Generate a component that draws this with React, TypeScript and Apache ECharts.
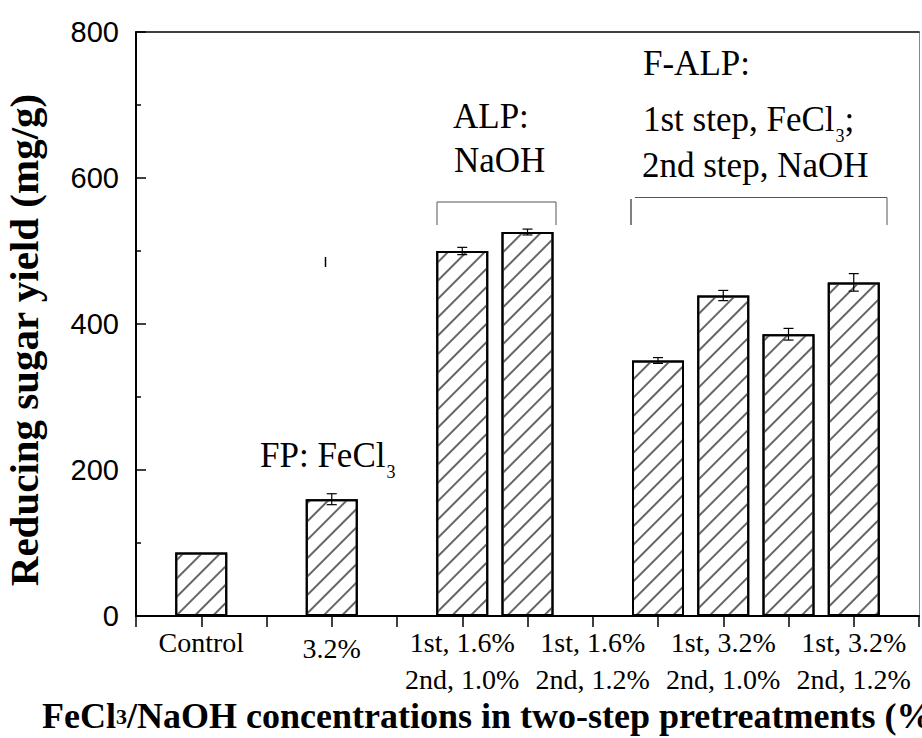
import React, { useEffect, useRef } from "react";
import * as echarts from "echarts";

// slot index of each bar on the x axis (0..12)
const barSlots = [1, 3, 5, 6, 8, 9, 10, 11];
const yields = [87, 160, 500, 526, 350, 439, 386, 457];
const errors = [0, 7.5, 5, 4, 4, 7, 8, 12];
const labelSlots = [1, 3, 5, 7, 9, 11];
const tickLabels = [
  "Control",
  "3.2%",
  "1st, 1.6%\n2nd, 1.0%",
  "1st, 1.6%\n2nd, 1.2%",
  "1st, 3.2%\n2nd, 1.0%",
  "1st, 3.2%\n2nd, 1.2%",
];
const yTitle = "Reducing sugar yield (mg/g)";
const xTitle = "FeCl{s|3}/NaOH concentrations in two-step pretreatments (%)";

const SERIF = '"Liberation Serif", "Times New Roman", serif';
const SANS = '"Liberation Sans", Arial, sans-serif';

function measure(text: string, font: string): number {
  const c = document.createElement("canvas").getContext("2d");
  if (!c) return text.length * 16;
  c.font = font;
  return c.measureText(text).width;
}

export default function App() {
  const ref = useRef<HTMLDivElement>(null);
  useEffect(() => {
    if (!ref.current) return;
    const chart = echarts.init(ref.current, null, { renderer: "svg" });
    const annFont = `35px ${SERIF}`;
    const subFont = `18px ${SERIF}`;
    const txt = (x: number, y: number, text: string, font = annFont) => ({
      type: "text",
      x,
      y,
      style: { text, font, fill: "#000", textAlign: "left", textVerticalAlign: "middle" },
    });
    const fpX = 260;
    const fpY = 455;
    const fpW = measure("FP: FeCl", annFont);
    const l1X = 643;
    const l1Y = 119.5;
    const l1W = measure("1st step, FeCl", annFont);
    const subW = measure("3", subFont);

    const option: any = {
      animation: false,
      backgroundColor: "#fff",
      grid: { left: 136, right: 1, top: 32, bottom: 122, containLabel: false },
      xAxis: [
        {
          type: "value",
          min: 0,
          max: 12,
          interval: 1,
          axisLine: { show: true, onZero: false, lineStyle: { color: "#000", width: 2 } },
          axisTick: { show: true, inside: false, length: 11, lineStyle: { color: "#000", width: 1.5 } },
          splitLine: { show: false },
          axisLabel: {
            show: true,
            margin: 8,
            color: "#000",
            fontFamily: SERIF,
            fontSize: 28,
            lineHeight: 37,
            formatter: (v: number) => {
              const idx = labelSlots.indexOf(v);
              if (idx < 0) return "";
              return idx === 1 ? `{low|${tickLabels[idx]}}` : tickLabels[idx];
            },
            rich: {
              low: { fontFamily: SERIF, fontSize: 28, lineHeight: 37, padding: [12, 0, 0, 0], color: "#000" },
            },
          },
        },
        {
          type: "value",
          position: "top",
          min: 0,
          max: 12,
          axisLine: { show: true, onZero: false, lineStyle: { color: "#000", width: 1.5 } },
          axisTick: { show: false },
          axisLabel: { show: false },
          splitLine: { show: false },
        },
      ],
      yAxis: [
        {
          type: "value",
          min: 0,
          max: 800,
          interval: 200,
          axisLine: { show: true, onZero: false, lineStyle: { color: "#000", width: 2 } },
          axisTick: { show: true, inside: true, length: 10, lineStyle: { color: "#000", width: 1.5 } },
          minorTick: { show: true, splitNumber: 2, length: 5, lineStyle: { color: "#000", width: 1.5 } },
          splitLine: { show: false },
          axisLabel: { color: "#000", fontFamily: SANS, fontSize: 29, margin: 17 },
        },
        {
          type: "value",
          position: "right",
          min: 0,
          max: 800,
          axisLine: { show: true, onZero: false, lineStyle: { color: "#888", width: 1 } },
          axisTick: { show: false },
          axisLabel: { show: false },
          splitLine: { show: false },
        },
      ],
      series: [
        {
          type: "bar",
          xAxisIndex: 0,
          yAxisIndex: 0,
          barWidth: 52,
          data: barSlots.map((x, i) => [x, yields[i]]),
          itemStyle: {
            color: "#fff",
            borderColor: "#000",
            borderWidth: 2,
            decal: {
              symbol: "rect",
              symbolSize: 1,
              color: "#666",
              dashArrayX: [1, 0],
              dashArrayY: [1.1, 10.7],
              rotation: -Math.PI / 4,
            },
          },
        },
        {
          type: "custom",
          xAxisIndex: 0,
          yAxisIndex: 0,
          z: 10,
          data: barSlots.map((x, i) => [x, yields[i] - errors[i], yields[i] + errors[i]]),
          renderItem: (params: any, api: any) => {
            const x = api.value(0);
            const lo = api.coord([x, api.value(1)]);
            const hi = api.coord([x, api.value(2)]);
            if (Math.abs(hi[1] - lo[1]) < 0.5) return null;
            const hw = 5;
            const st = { stroke: "#000", lineWidth: 1.2 };
            return {
              type: "group",
              children: [
                { type: "line", shape: { x1: lo[0], y1: lo[1], x2: hi[0], y2: hi[1] }, style: st },
                { type: "line", shape: { x1: lo[0] - hw, y1: lo[1], x2: lo[0] + hw, y2: lo[1] }, style: st },
                { type: "line", shape: { x1: hi[0] - hw, y1: hi[1], x2: hi[0] + hw, y2: hi[1] }, style: st },
              ],
            };
          },
        },
      ],
      graphic: [
        {
          type: "text",
          x: 24,
          y: 340,
          rotation: Math.PI / 2,
          style: {
            text: yTitle,
            font: `bold 41px ${SERIF}`,
            fill: "#000",
            textAlign: "center",
            textVerticalAlign: "middle",
          },
        },
        {
          type: "text",
          x: 42,
          y: 716,
          style: {
            text: xTitle,
            font: `bold 36px ${SERIF}`,
            fill: "#000",
            textAlign: "left",
            textVerticalAlign: "middle",
            rich: { s: { fontSize: 22, fontFamily: SERIF, fontWeight: "bold", fill: "#000" } },
          },
        },
        txt(fpX, fpY, "FP: FeCl"),
        txt(fpX + fpW + 1, fpY + 17, "3", subFont),
        txt(453, 116.5, "ALP:"),
        txt(454, 160, "NaOH"),
        txt(643, 63.5, "F-ALP:"),
        txt(l1X, l1Y, "1st step, FeCl"),
        txt(l1X + l1W + 1, l1Y + 16, "3", subFont),
        txt(l1X + l1W + subW + 1, l1Y, ";"),
        txt(642, 165.5, "2nd step, NaOH"),
        {
          type: "polyline",
          shape: { points: [[437, 225], [437, 202], [556, 202], [556, 225]] },
          style: { stroke: "#555", lineWidth: 1, fill: null },
        },
        {
          type: "line",
          shape: { x1: 631, y1: 199, x2: 631, y2: 225 },
          style: { stroke: "#000", lineWidth: 1 },
        },
        {
          type: "polyline",
          shape: { points: [[635, 197.5], [887, 197.5], [887, 225]] },
          style: { stroke: "#555", lineWidth: 1, fill: null },
        },
        {
          type: "line",
          shape: { x1: 325.5, y1: 257, x2: 325.5, y2: 267 },
          style: { stroke: "#000", lineWidth: 1.5 },
        },
      ],
    };
    chart.setOption(option);
    return () => chart.dispose();
  }, []);
  return (
    <div
      ref={ref}
      style={{ position: "absolute", left: 0, top: 0, width: 922, height: 738, background: "#fff" }}
    />
  );
}
